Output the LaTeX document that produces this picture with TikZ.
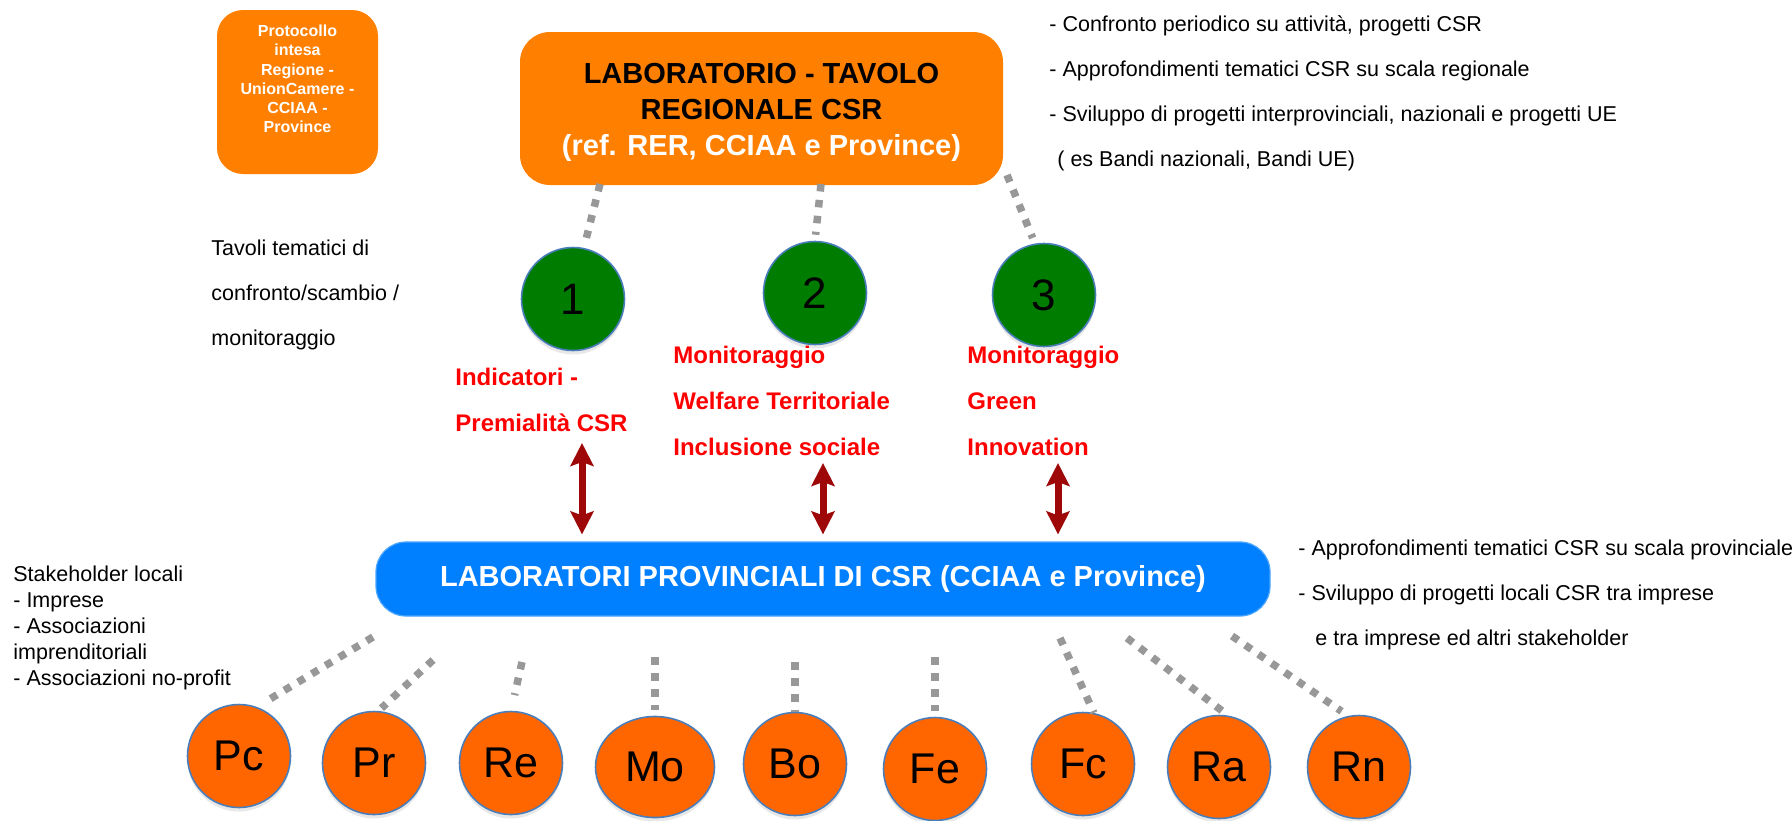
\documentclass[tikz,border=0pt]{standalone}
\usepackage{fontspec}
\setmainfont{Liberation Sans}
\usepackage{tikz}
\usetikzlibrary{shapes.geometric,arrows.meta,shadows}
\usepackage{color}

\definecolor{laborange}{RGB}{255,128,0}
\definecolor{provorange}{RGB}{255,102,0}
\definecolor{provblue}{RGB}{0,128,255}
\definecolor{tablegreen}{RGB}{0,124,0}
\definecolor{rimblue}{RGB}{74,126,187}
\definecolor{linkgray}{RGB}{152,152,152}
\definecolor{darkred}{RGB}{158,8,8}

\begin{document}
\begin{tikzpicture}[x=0.5pt, y=-0.5pt,
    roundbox/.style={rectangle, rounded corners=15pt, inner sep=0pt},
    tavolo/.style={circle, draw=rimblue, line width=0.8pt, fill=tablegreen,
      minimum size=51.5pt, inner sep=0pt, font=\fontsize{22}{22}\selectfont,
      drop shadow={shadow xshift=0pt, shadow yshift=-2pt, opacity=0.18}},
    provincia/.style={tavolo, fill=provorange, font=\fontsize{21.5}{21.5}\selectfont},
    dashlink/.style={linkgray, line width=3.75pt, dash pattern=on 3.75pt off 4.25pt},
    twoway/.style={darkred, line width=3.5pt,
      {Stealth[width=11.5pt,length=11.5pt,inset=2pt]}-{Stealth[width=11.5pt,length=11.5pt,inset=2pt]}},
    % multi-line texts: placed by the baseline of their last line
    note/.style={anchor=base west, inner sep=0pt, align=left,
      font=\fontsize{10.75}{22.5}\selectfont},
    topic/.style={anchor=base west, inner sep=0pt, align=left, text=red,
      font=\bfseries\fontsize{12}{23}\selectfont}
  ]
  \useasboundingbox (0,0) rectangle (1792,820);

  % boxes
  \node[roundbox, fill=laborange, rounded corners=13pt,
    minimum width=80.5pt, minimum height=82pt] (protocollo) at (297.5,92) {};
  \node[align=center, text=white, inner sep=0pt,
    font=\bfseries\fontsize{8}{9.6}\selectfont] (protocollotext)
    at ([yshift=6.5pt]protocollo.center)
    {Protocollo\\intesa\\Regione -\\UnionCamere -\\CCIAA -\\Province};
  \node[roundbox, fill=laborange, minimum width=241.5pt, minimum height=76.5pt]
    (regionale) at (761.5,108.5) {};
  \node[align=center, inner sep=0pt, font=\bfseries\fontsize{14.5}{18}\selectfont]
    (regionaletext) at ([yshift=-2pt]regionale.center)
    {LABORATORIO - TAVOLO\\REGIONALE CSR\\\textcolor{white}{(ref. RER, CCIAA e Province)}};
  \node[roundbox, fill=provblue, draw=provblue!70!white, line width=0.6pt,
    minimum width=447pt, minimum height=37pt, text=white,
    font=\bfseries\fontsize{14.5}{17}\selectfont] (provinciali)
    at (823,579) {LABORATORI PROVINCIALI DI CSR (CCIAA e Province)};

  % tavoli tematici
  \node[tavolo] (t1) at (573,299) {1};
  \node[tavolo] (t2) at (815,293) {2};
  \node[tavolo] (t3) at (1044,295) {3};

  % province
  \node[provincia] (pc) at (239,756) {Pc};
  \node[provincia] (pr) at (374,763) {Pr};
  \node[provincia] (re) at (511,763) {Re};
  \node[provincia, ellipse, minimum width=59.5pt, minimum height=50.5pt] (mo) at (655,767) {Mo};
  \node[provincia] (bo) at (795,764) {Bo};
  \node[provincia] (fe) at (935,769) {Fe};
  \node[provincia] (fc) at (1083,764) {Fc};
  \node[provincia] (ra) at (1219,767) {Ra};
  \node[provincia] (rn) at (1359,767) {Rn};

  % free ends
  \coordinate (l1) at (600,184);
  \coordinate (l2) at (821,184);
  \coordinate (l3) at (1007,175);
  \coordinate (a1) at (582,443);
  \coordinate (a2) at (823,463);
  \coordinate (a3) at (1058,463);
  \coordinate (dpc) at (373,637);
  \coordinate (dpr) at (433,660);
  \coordinate (dre) at (522,662);
  \coordinate (dmo) at (655,657);
  \coordinate (dbo) at (795,662);
  \coordinate (dfe) at (935,657);
  \coordinate (dfc) at (1060,638);
  \coordinate (dra) at (1127,638);
  \coordinate (drn) at (1232,636);

  % links
  \draw[dashlink, shorten >=3pt] (l1) -- (t1.78);
  \draw[dashlink, shorten >=3pt] (l2) -- (t2.north);
  \draw[dashlink, shorten >=3pt] (l3) -- (t3.100);
  \draw[twoway, shorten >=3.5pt] (a1) -- (a1 |- provinciali.north);
  \draw[twoway, shorten >=3.5pt] (a2) -- (a2 |- provinciali.north);
  \draw[twoway, shorten >=3.5pt] (a3) -- (a3 |- provinciali.north);
  \draw[dashlink, shorten >=4pt] (dpc) -- (pc.70);
  \draw[dashlink, shorten >=2pt] (dpr) -- (pr.85);
  \draw[dashlink, shorten >=8pt] (dre) -- (re.north);
  \draw[dashlink, shorten >=3pt] (dmo) -- (mo.north);
  \draw[dashlink] (dbo) -- (bo.north);
  \draw[dashlink, shorten >=3pt] (dfe) -- (fe.north);
  \draw[dashlink] (dfc) -- (fc.78);
  \draw[dashlink] (dra) -- (ra.80);
  \draw[dashlink, shorten >=4pt] (drn) -- (rn.102);

  % labels
  \node[topic] (topic1) at (455,431) {Indicatori -\\Premialità CSR};
  \node[topic] (topic2) at (673,455) {Monitoraggio\\Welfare Territoriale\\Inclusione sociale};
  \node[topic] (topic3) at (967,455) {Monitoraggio\\Green\\Innovation};
  \node[note] (regnote) at (1049,166)
    {- Confronto periodico su attività, progetti CSR\\
     - Approfondimenti tematici CSR su scala regionale\\
     - Sviluppo di progetti interprovinciali, nazionali e progetti UE\\
     \hspace*{4pt}( es Bandi nazionali, Bandi UE)};
  \node[note] (tavnote) at (211,345) {Tavoli tematici di\\confronto/scambio /\\monitoraggio};
  \node[note, font=\fontsize{10.75}{13}\selectfont] (stknote) at (13,685)
    {Stakeholder locali\\- Imprese\\- Associazioni\\imprenditoriali\\- Associazioni no-profit};
  \node[note] (provnote) at (1298,645)
    {- Approfondimenti tematici CSR su scala provinciale\\
     - Sviluppo di progetti locali CSR tra imprese\\
     \hspace*{8.5pt}e tra imprese ed altri stakeholder};
\end{tikzpicture}
\end{document}
